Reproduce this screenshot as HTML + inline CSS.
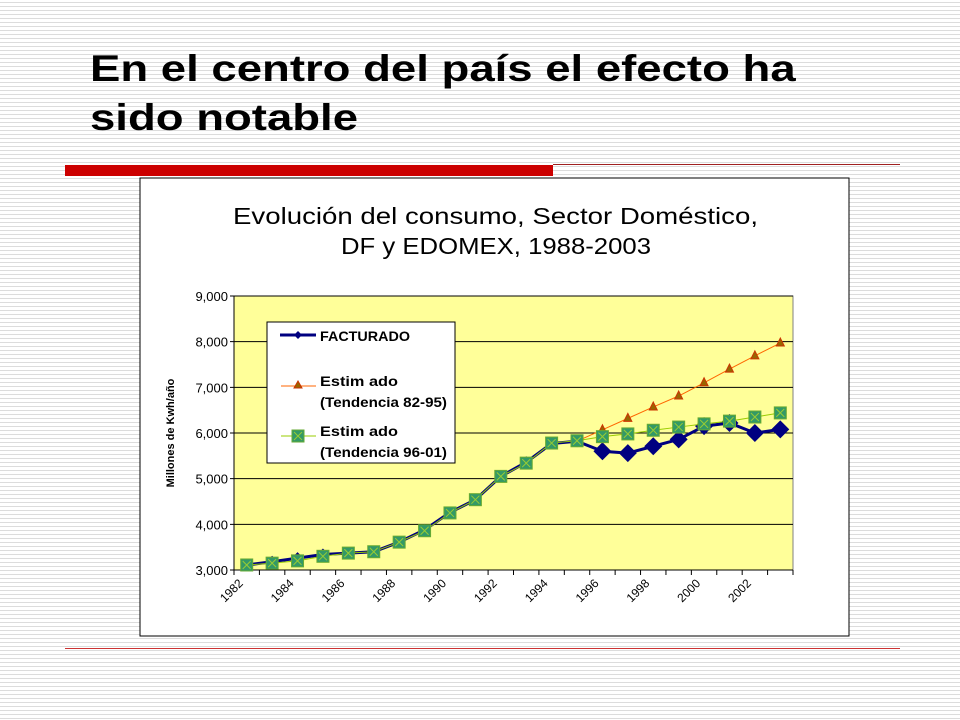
<!DOCTYPE html>
<html><head><meta charset="utf-8"><style>
body{margin:0;width:960px;height:720px;overflow:hidden;font-family:"Liberation Sans",Arial,sans-serif;
background:#fff repeating-linear-gradient(to bottom,#fff 0,#fff 2px,#dcdcdc 2px,#dcdcdc 3px,#fff 3px,#fff 4px);position:relative}
.t{position:absolute;left:90px;top:44px;font-size:37px;font-weight:bold;line-height:49px;color:#000;transform:scaleX(1.23);transform-origin:0 0;white-space:nowrap}
</style></head><body>
<div class="t">En el centro del país el efecto ha<br>sido notable</div>
<div style="position:absolute;left:65px;top:165px;width:488px;height:11px;background:#cc0000"></div>
<div style="position:absolute;left:553px;top:164px;width:347px;height:1px;background:#a02020"></div>
<div style="position:absolute;left:65px;top:648px;width:835px;height:1px;background:#cc3333"></div>
<svg id="c" width="960" height="720" style="position:absolute;left:0;top:0" xmlns="http://www.w3.org/2000/svg"></svg>
<script>
const years=[1982,1983,1984,1985,1986,1987,1988,1989,1990,1991,1992,1993,1994,1995,1996,1997,1998,1999,2000,2001,2002,2003];
const facturado=[3110,3180,3260,3340,3370,3400,3610,3880,4260,4540,5050,5360,5770,5820,5600,5560,5710,5860,6150,6220,6000,6080];
const est8295=[null,null,null,null,null,null,null,null,null,null,null,null,null,5820,6070,6320,6570,6810,7100,7400,7690,7970];
const est9601=[3110,3150,3200,3300,3370,3400,3610,3860,4250,4540,5050,5340,5780,5830,5920,5980,6060,6130,6200,6260,6350,6440];
const yTicks=[3000,4000,5000,6000,7000,8000,9000];
const xLabels=[1982,1984,1986,1988,1990,1992,1994,1996,1998,2000,2002];
const svg=document.getElementById('c');const NS='http://www.w3.org/2000/svg';
const L=234,R=793,T=296,B=570,step=(R-L)/years.length;
const x=i=>L+step*(i+0.5), y=v=>B-(v-3000)/6000*(B-T);
function el(t,a,p){const e=document.createElementNS(NS,t);for(const k in a)e.setAttribute(k,a[k]);(p||svg).appendChild(e);return e;}
let f=el('rect',{x:140,y:178,width:709,height:458,fill:'#fff',stroke:'#000','stroke-width':1});

let tt=el('text',{x:233,y:224,'font-size':23,fill:'#000',textLength:525,lengthAdjust:'spacingAndGlyphs'});tt.textContent='Evolución del consumo, Sector Doméstico,';

let t2=el('text',{x:341,y:254,'font-size':23,fill:'#000',textLength:310,lengthAdjust:'spacingAndGlyphs'});t2.textContent='DF y EDOMEX, 1988-2003';

let pa=el('rect',{x:L,y:T,width:R-L,height:B-T,fill:'#ffff99',stroke:'#808080'});

yTicks.forEach(v=>{let g=el('line',{x1:L-4,x2:R,y1:y(v),y2:y(v),stroke:'#000','stroke-width':1});

let t=el('text',{x:L-6,y:y(v)+5,'text-anchor':'end','font-size':13,fill:'#000'});t.textContent=v.toLocaleString('en-US');
});
el('line',{x1:L,x2:L,y1:T,y2:B,stroke:'#000'});el('line',{x1:L,x2:R,y1:B,y2:B,stroke:'#000'});
for(let i=0;i<=years.length;i++)el('line',{x1:L+step*i,x2:L+step*i,y1:B,y2:B+5,stroke:'#000'});
xLabels.forEach(yr=>{const i=years.indexOf(yr);let t=el('text',{x:x(i)-3,y:B+14,'text-anchor':'end','font-size':12,fill:'#000',transform:`rotate(-45 ${x(i)-3} ${B+14})`});t.textContent=yr;
});
let yt=el('text',{x:174,y:433,'text-anchor':'middle','font-size':11,'font-weight':'bold',transform:'rotate(-90 174 433)'});yt.textContent='Millones de Kwh/año';

function pts(a){return a.map((v,i)=>v==null?null:[x(i),y(v)]).filter(p=>p);}
let po=el('polyline',{points:pts(est8295).join(' '),fill:'none',stroke:'#ff6600','stroke-width':1});

est8295.forEach((v,i)=>{if(v==null||i<14)return;const X=x(i),Y=y(v);let m=el('polygon',{points:`${X},${Y-5} ${X-4},${Y+3} ${X+4},${Y+3}`,fill:'#996600',stroke:'#cc3300'});
});
let pf=el('polyline',{points:pts(facturado).join(' '),fill:'none',stroke:'#000080','stroke-width':3});

facturado.forEach((v,i)=>{const X=x(i),Y=y(v),s=i>=14?9:6;let m=el('polygon',{points:`${X},${Y-s} ${X+s},${Y} ${X},${Y+s} ${X-s},${Y}`,fill:'#000080'});
});
let pg=el('polyline',{points:pts(est9601).join(' '),fill:'none',stroke:'#99cc00','stroke-width':1});

est9601.forEach((v,i)=>{const X=x(i),Y=y(v);let m=el('rect',{x:X-6,y:Y-6,width:12,height:12,fill:'#339966',stroke:'#66aa33'});

el('path',{d:`M${X-4},${Y-4}L${X+4},${Y+4}M${X+4},${Y-4}L${X-4},${Y+4}`,stroke:'#99cc33','stroke-width':1});});
let lg=el('g',{});
el('rect',{x:267,y:322,width:188,height:141,fill:'#fff',stroke:'#000'},lg);
el('line',{x1:280,x2:316,y1:335,y2:335,stroke:'#000080','stroke-width':3},lg);
el('polygon',{points:'298,331 302,335 298,339 294,335',fill:'#000080'},lg);
let a=el('text',{x:320,y:341,'font-size':14,'font-weight':'bold',textLength:90,lengthAdjust:'spacingAndGlyphs'},lg);a.textContent='FACTURADO';
el('line',{x1:281,x2:316,y1:386,y2:386,stroke:'#ff6600'},lg);
el('polygon',{points:'298,381 294,388 302,388',fill:'#996600',stroke:'#cc3300'},lg);
let b=el('text',{x:320,y:386,'font-size':14,'font-weight':'bold',textLength:78,lengthAdjust:'spacingAndGlyphs'},lg);b.textContent='Estim ado';
let b2=el('text',{x:320,y:407,'font-size':14,'font-weight':'bold',textLength:127,lengthAdjust:'spacingAndGlyphs'},lg);b2.textContent='(Tendencia 82-95)';
el('line',{x1:281,x2:316,y1:436,y2:436,stroke:'#99cc00'},lg);
el('rect',{x:292,y:430,width:12,height:12,fill:'#339966',stroke:'#66aa33'},lg);
el('path',{d:'M294,432L302,440M302,432L294,440',stroke:'#99cc33'},lg);
let c=el('text',{x:320,y:436,'font-size':14,'font-weight':'bold',textLength:78,lengthAdjust:'spacingAndGlyphs'},lg);c.textContent='Estim ado';
let c2=el('text',{x:320,y:457,'font-size':14,'font-weight':'bold',textLength:127,lengthAdjust:'spacingAndGlyphs'},lg);c2.textContent='(Tendencia 96-01)';
</script>
</body></html>
